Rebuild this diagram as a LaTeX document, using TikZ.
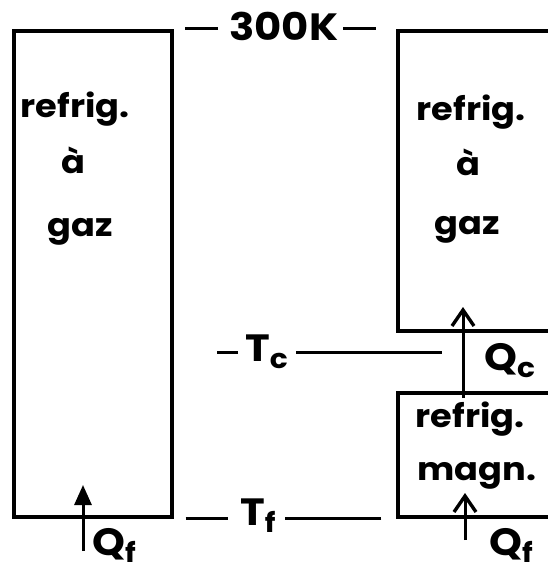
\documentclass[tikz,border=0pt]{standalone}
\usepackage{fontspec}
\setmainfont{Poppins}[FakeStretch=1.1]
\usepackage{tikz}
\usetikzlibrary{positioning, arrows.meta}
\newcommand{\indice}[1]{\raisebox{-7pt}{\fontsize{27}{27}\selectfont #1}}
\tikzset{
    boite/.style={draw, line width=3.4pt, inner sep=0pt},
    lettre/.style={font=\bfseries\fontsize{32}{32}\selectfont, inner sep=0pt, anchor=base},
    grand/.style={font=\bfseries\fontsize{38}{38}\selectfont, inner sep=0pt, anchor=base west},
    trait/.style={line width=3pt},
    chaleur/.style={line width=3pt, -{Straight Barb[length=16pt, width=22pt, line width=3.4pt]}},
    pleine/.style={line width=3pt, -{Triangle[length=20pt, width=17pt]}}
}

\begin{document}
\begin{tikzpicture}[x=1pt, y=-1pt]
    \useasboundingbox (0,0) rectangle (548,570);
    \clip (0,0) rectangle (548,570);
    % boxes
    \node[boite, minimum width=158pt, minimum height=486pt] (gaz1) at (93,274) {};
    \node[boite, minimum width=172pt, minimum height=300pt] (gaz2) at (484,181) {};
    \node[boite, minimum width=172pt, minimum height=124pt] (magn) at (484,455) {};
    % texts in the boxes
    \node[lettre] (refg1) at (75,117) {refrig.};
    \node[lettre] (a1) at (73,173) {à};
    \node[lettre] (gz1) at (80,236) {gaz};
    \node[lettre] (refg2) at (471,120) {refrig.};
    \node[lettre] (a2) at (468,175) {à};
    \node[lettre] (gz2) at (467,234) {gaz};
    \node[lettre] (refm) at (470,427) {refrig.};
    \node[lettre] (mg) at (477,480) {magn.};
    % temperatures
    \node[grand] (chaud) at (229,40) {300K};
    \draw[trait] ([xshift=-11pt]chaud.west |- 0,28) -- ++(-33,0);
    \draw[trait] ([xshift=5pt]chaud.east |- 0,28) -- ++(33,0);
    \node[grand] (tc) at (245,361) {T\indice{c}};
    \coordinate (tcfin) at (442,352);
    \draw[trait] ([xshift=-7pt]tc.west |- tcfin) -- ++(-21,0);
    \draw[trait] ([xshift=8pt]tc.east |- tcfin) -- (tcfin);
    \node[grand] (tf) at (240,525) {T\indice{f}};
    \draw[trait] ([xshift=12pt]gaz1.south east) -- ([xshift=-12pt]tf.west |- gaz1.south);
    \draw[trait] ([xshift=-15pt]magn.south west) -- ([xshift=9pt]tf.east |- magn.south);
    % heat flows
    \coordinate (qf1) at (83,551);
    \coordinate (qf2) at (465,540);
    \coordinate (qc) at (463,398);
    \draw[pleine] (qf1) -- ++(0,-66);
    \draw[chaleur] (qf2) -- ++(0,-47);
    \draw[chaleur] (qc) -- ++(0,-91);
    \node[grand] (lqf1) at (92,555) {Q\indice{f}};
    \node[grand] (lqf2) at (489,555) {Q\indice{f}};
    \node[grand] (lqc) at (484,370) {Q\indice{c}};
\end{tikzpicture}
\end{document}
